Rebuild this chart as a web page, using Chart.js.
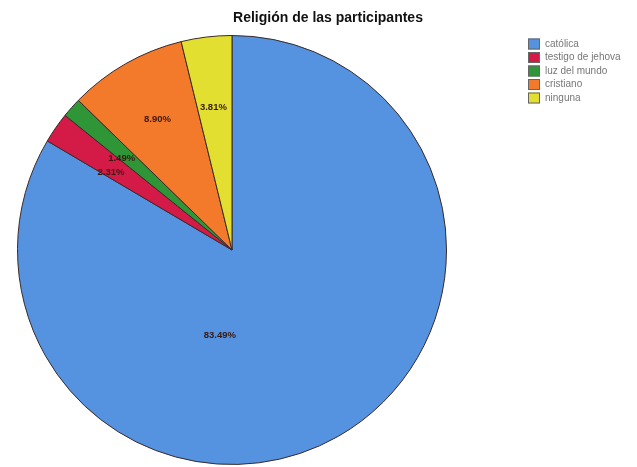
<!DOCTYPE html>
<html lang="es">
<head>
<meta charset="UTF-8">
<title>Religión de las participantes</title>
<script src="https://cdn.jsdelivr.net/npm/chart.js"></script>
<style>
  html, body { margin: 0; padding: 0; background: #fff; overflow: hidden; }
  #wrap { position: relative; width: 637px; height: 480px; }
</style>
</head>
<body>
<div id="wrap"><canvas id="pie"></canvas></div>
<script>
const titulo = 'Religión de las participantes';
const categorias = ['católica', 'testigo de jehova', 'luz del mundo', 'cristiano', 'ninguna'];
const porcentajes = [83.49, 2.31, 1.49, 8.90, 3.81];
const colores = ['#5592e0', '#d41a47', '#2e9636', '#f47a2b', '#e3df30'];

// where each percent label sits: fraction of radius and angle shift (radians)
const etiquetaPos = [
  { r: 0.40, shift: 0.66 },
  { r: 0.67, shift: -0.035 },
  { r: 0.67, shift: -0.03 },
  { r: 0.70, shift: 0 },
  { r: 0.67, shift: -0.01 }
];

const etiquetas = {
  id: 'etiquetas',
  afterDatasetsDraw(chart) {
    const ctx = chart.ctx;
    const meta = chart.getDatasetMeta(0);
    ctx.save();
    ctx.font = 'bold 9.5px Arial, "Liberation Sans", sans-serif';
    ctx.textAlign = 'center';
    ctx.textBaseline = 'middle';
    ctx.fillStyle = '#3a1a10';
    meta.data.forEach((arc, i) => {
      const p = arc.getProps(['x', 'y', 'startAngle', 'endAngle', 'outerRadius']);
      const ang = (p.startAngle + p.endAngle) / 2 + etiquetaPos[i].shift;
      const rr = p.outerRadius * etiquetaPos[i].r;
      ctx.fillText(porcentajes[i].toFixed(2) + '%', p.x + Math.cos(ang) * rr, p.y + Math.sin(ang) * rr);
    });
    ctx.restore();
  }
};

// title + legend drawn by hand so they sit where the SPSS output has them
const extras = {
  id: 'extras',
  afterDraw(chart) {
    const ctx = chart.ctx;
    ctx.save();
    ctx.font = 'bold 14px Arial, "Liberation Sans", sans-serif';
    ctx.textAlign = 'center';
    ctx.textBaseline = 'middle';
    ctx.fillStyle = '#111';
    ctx.fillText(titulo, 328, 18);

    ctx.font = '10px Arial, "Liberation Sans", sans-serif';
    ctx.textAlign = 'left';
    categorias.forEach((c, i) => {
      const y = 44 + i * 13.5;
      ctx.fillStyle = colores[i];
      ctx.fillRect(528, y - 5.5, 12, 11);
      ctx.strokeStyle = '#666';
      ctx.lineWidth = 1;
      ctx.strokeRect(528.5, y - 5, 11, 10);
      ctx.fillStyle = '#777';
      ctx.fillText(c, 545, y);
    });
    ctx.restore();
  }
};

new Chart(document.getElementById('pie'), {
  type: 'pie',
  data: {
    labels: categorias,
    datasets: [{
      data: porcentajes,
      backgroundColor: colores,
      borderColor: '#3a2a2a',
      borderWidth: 1
    }]
  },
  options: {
    responsive: true,
    maintainAspectRatio: false,
    animation: false,
    layout: { padding: { top: 35, left: 17, right: 190, bottom: 15 } },
    plugins: {
      legend: { display: false },
      tooltip: { enabled: false },
      title: { display: false }
    }
  },
  plugins: [etiquetas, extras]
});
</script>
</body>
</html>
